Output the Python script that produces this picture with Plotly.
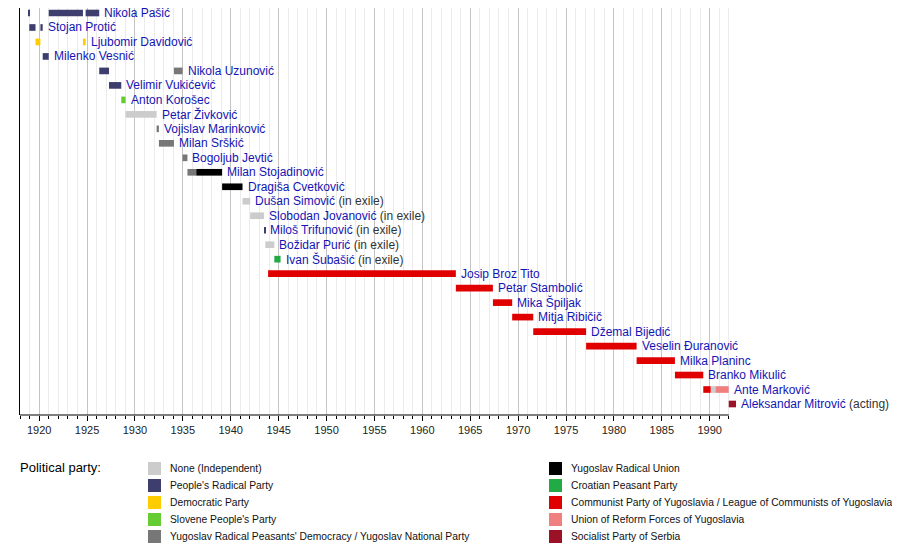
import plotly.graph_objects as go
import numpy as np

# Prime ministers of Yugoslavia, one row each (top to bottom)
names = ["Nikola Pašić", "Stojan Protić", "Ljubomir Davidović", "Milenko Vesnić",
         "Nikola Uzunović", "Velimir Vukićević", "Anton Korošec", "Petar Živković",
         "Vojislav Marinković", "Milan Srškić", "Bogoljub Jevtić", "Milan Stojadinović",
         "Dragiša Cvetković", "Dušan Simović", "Slobodan Jovanović", "Miloš Trifunović",
         "Božidar Purić", "Ivan Šubašić", "Josip Broz Tito", "Petar Stambolić",
         "Mika Špiljak", "Mitja Ribičič", "Džemal Bijedić", "Veselin Đuranović",
         "Milka Planinc", "Branko Mikulić", "Ante Marković", "Aleksandar Mitrović"]
notes = ["", "", "", "", "", "", "", "", "", "", "", "", "",
         "(in exile)", "(in exile)", "(in exile)", "(in exile)", "(in exile)",
         "", "", "", "", "", "", "", "", "", "(acting)"]

# parties and their colours
parties = ["None (Independent)", "People's Radical Party", "Democratic Party",
           "Slovene People's Party",
           "Yugoslav Radical Peasants' Democracy / Yugoslav National Party",
           "Yugoslav Radical Union", "Croatian Peasant Party",
           "Communist Party of Yugoslavia / League of Communists of Yugoslavia",
           "Union of Reform Forces of Yugoslavia", "Socialist Party of Serbia"]
party_colors = ["#cccccc", "#3d3d6e", "#ffcc00", "#66cc33", "#777777",
                "#000000", "#22aa44", "#e00000", "#f08080", "#9b1126"]

# terms in office: row index, party index, start year, end year
seg_row = [0, 0, 0, 1, 1, 2, 2, 3, 4, 4, 5, 6, 7, 8, 9, 10, 11, 11, 12,
           13, 14, 15, 16, 17, 18, 19, 20, 21, 22, 23, 24, 25, 26, 26, 26, 27]
seg_party = [1, 1, 1, 1, 1, 2, 2, 1, 1, 4, 1, 3, 0, 4, 4, 4, 4, 5, 5,
             0, 0, 1, 0, 6, 7, 7, 7, 7, 7, 7, 7, 7, 7, 0, 8, 9]
seg_start = [1918.88, 1921.0, 1924.85, 1918.97, 1920.13, 1919.62, 1924.57, 1920.37,
             1926.27, 1934.07, 1927.29, 1928.57, 1929.02, 1932.26, 1932.5, 1934.97,
             1935.48, 1936.4, 1939.1, 1941.23, 1942.03, 1943.48, 1943.61, 1944.55,
             1943.9, 1963.5, 1967.37, 1969.38, 1971.58, 1977.1, 1982.37, 1986.37,
             1989.33, 1990.1, 1990.6, 1991.99]
seg_end = [1919.03, 1924.57, 1926.27, 1919.62, 1920.37, 1920.13, 1924.85, 1921.0,
           1927.29, 1934.97, 1928.57, 1929.02, 1932.26, 1932.5, 1934.07, 1935.48,
           1936.4, 1939.1, 1941.23, 1942.03, 1943.48, 1943.61, 1944.55, 1945.2,
           1963.5, 1967.37, 1969.38, 1971.58, 1977.1, 1982.37, 1986.37, 1989.33,
           1990.1, 1990.6, 1991.99, 1992.75]

AXIS_START, AXIS_END = 1918, 1992

seg_row = np.array(seg_row)
seg_party = np.array(seg_party)
seg_start = np.array(seg_start)
seg_end = np.array(seg_end)

fig = go.Figure()

# one bar trace per party
for p, color in enumerate(party_colors):
    m = seg_party == p
    if not m.any():
        continue
    fig.add_trace(go.Bar(y=seg_row[m], x=seg_end[m] - seg_start[m], base=seg_start[m],
                         orientation="h", width=0.46, name=parties[p],
                         marker=dict(color=color, line=dict(width=0)),
                         showlegend=False, hoverinfo="skip"))

# name labels just after the last term of each row
for i, nm in enumerate(names):
    last = seg_end[seg_row == i].max()
    txt = nm
    if notes[i]:
        txt += " <span style='color:#333333'>" + notes[i] + "</span>"
    fig.add_annotation(x=last, y=i, xref="x", yref="y", text=txt, showarrow=False,
                       xanchor="left", yanchor="middle", xshift=3,
                       font=dict(size=12, color="#1414b4"))

# x axis baseline only up to the end of the period
fig.add_shape(type="line", xref="x", yref="paper", x0=AXIS_START, x1=AXIS_END,
              y0=0, y1=0, line=dict(color="black", width=1.2))

# page body has an 8px margin, so the figure is offset by that much
OFF = 8
W, H = 900, 545 - OFF
ml, mt, mb = 20 - OFF, 0, 130
mr = W - (737 - OFF)
pw, ph = W - ml - mr, H - mt - mb

def px_x(px):
    # page pixel -> paper x
    return (px - OFF - ml) / pw

def px_y(py):
    # page pixel -> paper y
    return (H - mb - (py - OFF)) / ph

# legend drawn by hand in two columns
fig.add_annotation(x=px_x(18), y=px_y(467), xref="paper", yref="paper",
                   text="Political party:", showarrow=False, xanchor="left",
                   yanchor="middle", font=dict(size=13, color="black"))
for k, (pname, color) in enumerate(zip(parties, party_colors)):
    col, r = divmod(k, 5)
    sx = 148 if col == 0 else 549
    cy = 468.5 + 17 * r
    fig.add_shape(type="rect", xref="paper", yref="paper",
                  xsizemode="pixel", ysizemode="pixel",
                  xanchor=px_x(sx), yanchor=px_y(cy),
                  x0=0, x1=13, y0=-6.5, y1=6.5,
                  fillcolor=color, line=dict(width=0))
    fig.add_annotation(x=px_x(sx + 20), y=px_y(cy), xref="paper", yref="paper",
                       text=pname, showarrow=False, xanchor="left", yanchor="middle",
                       font=dict(size=10.3, color="#111111"))

fig.update_layout(
    width=W, height=H,
    margin=dict(l=ml, r=mr, t=mt, b=mb, pad=0),
    paper_bgcolor="white", plot_bgcolor="white",
    barmode="overlay",
    font=dict(family="Liberation Sans, Arial, sans-serif", color="#222222"),
    xaxis=dict(range=[AXIS_START, 1992.85], tick0=1920, dtick=5,
               showgrid=True, gridcolor="#c4c4c4", gridwidth=1,
               ticks="outside", ticklen=5, tickcolor="black", tickwidth=1,
               tickfont=dict(size=11, color="#222222"), ticklabelstandoff=0,
               minor=dict(dtick=1, tick0=1920, showgrid=True, gridcolor="#ebebeb",
                          ticks="outside", ticklen=3, tickcolor="black"),
               showline=False, zeroline=False, fixedrange=True),
    yaxis=dict(range=[27.76, -0.345], showticklabels=False, showgrid=False,
               zeroline=False, showline=True, linecolor="black", linewidth=1.2,
               ticks="", fixedrange=True),
)

fig.write_html("out.html")
